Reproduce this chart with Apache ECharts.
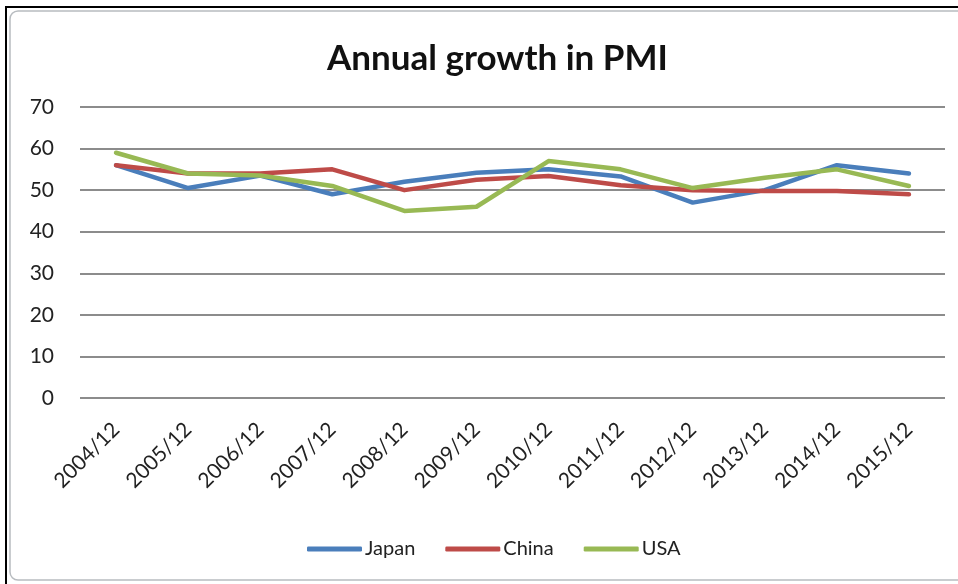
<!DOCTYPE html>
<html>
<head>
<meta charset="utf-8">
<script src="https://cdn.jsdelivr.net/npm/echarts@6/dist/echarts.min.js"></script>
<style>
  html, body { margin: 0; padding: 0; background: #fff; }
  #chart { width: 958px; height: 584px; }
</style>
</head>
<body>
<div id="chart"></div>
<script>
// PMI readings, December of each year
const categories = ['2004/12', '2005/12', '2006/12', '2007/12', '2008/12', '2009/12',
                    '2010/12', '2011/12', '2012/12', '2013/12', '2014/12', '2015/12'];
const japan = [56, 50.5, 53.5, 49, 52, 54.2, 55, 53.3, 47, 50, 56, 54];
const china = [56, 54, 54, 55, 50, 52.5, 53.4, 51.2, 50, 49.8, 49.8, 49];
const usa   = [59, 54, 53.5, 51, 45, 46, 57, 55, 50.5, 53, 55, 51];
const yTicks = [0, 10, 20, 30, 40, 50, 60, 70];

const FONT = 'Lato, "Open Sans", sans-serif';

const chart = echarts.init(document.getElementById('chart'), null, { renderer: 'canvas' });

function lineSeries(name, data, color) {
  return {
    name: name,
    type: 'line',
    data: data,
    symbol: 'none',
    smooth: false,
    lineStyle: { color: color, width: 4.5, cap: 'round', join: 'round' },
    itemStyle: { color: color }
  };
}

chart.setOption({
  animation: false,
  backgroundColor: '#ffffff',
  graphic: [
    {
      type: 'rect',
      shape: { x: 6, y: 7, width: 970, height: 600 },
      style: { fill: 'none', stroke: '#000', lineWidth: 2 },
      silent: true
    },
    {
      type: 'rect',
      shape: { x: 10, y: 11, width: 960, height: 569, r: 8 },
      style: { fill: 'none', stroke: '#b8bcc0', lineWidth: 1.5 },
      silent: true
    }
  ],
  title: {
    text: 'Annual growth in PMI',
    left: 322,
    top: 36,
    textStyle: { fontFamily: FONT, fontSize: 35, fontWeight: 'bold', color: '#111' }
  },
  legend: {
    top: 534,
    left: 302,
    itemWidth: 55,
    itemHeight: 5,
    itemGap: 30,
    icon: 'roundRect',
    textStyle: { fontFamily: FONT, fontSize: 20, color: '#222', padding: [0, 0, 0, -2] },
    data: ['Japan', 'China', 'USA']
  },
  grid: { left: 80, right: 13, top: 107, bottom: 186, containLabel: false },
  xAxis: {
    type: 'category',
    data: categories,
    boundaryGap: true,
    axisLine: { show: false },
    axisTick: { show: false },
    axisLabel: {
      rotate: 45,
      margin: 28,
      fontFamily: FONT,
      fontSize: 21,
      color: '#222'
    }
  },
  yAxis: {
    type: 'value',
    min: yTicks[0],
    max: yTicks[yTicks.length - 1],
    interval: 10,
    axisLine: { show: false },
    axisTick: { show: false },
    axisLabel: { fontFamily: FONT, fontSize: 21, color: '#222', margin: 26 },
    splitLine: { lineStyle: { color: '#8c8c8c', width: 2 } }
  },
  series: [
    lineSeries('Japan', japan, '#4a7ebb'),
    lineSeries('China', china, '#be4b48'),
    lineSeries('USA', usa, '#98b954')
  ]
});
</script>
</body>
</html>
